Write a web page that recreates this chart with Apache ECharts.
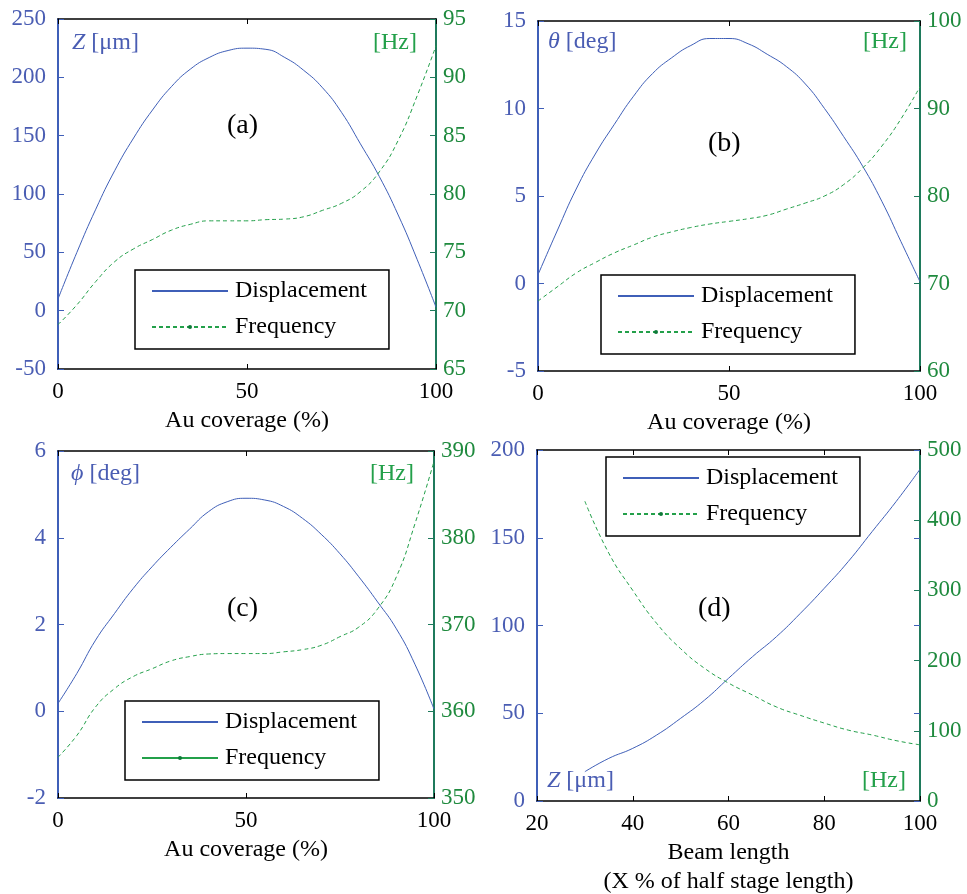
<!DOCTYPE html>
<html>
<head>
<meta charset="utf-8">
<script src="https://cdn.jsdelivr.net/npm/echarts@6/dist/echarts.min.js"></script>
<style>
  html, body { margin: 0; background: #fff; }
  #chart { width: 967px; height: 894px; }
</style>
</head>
<body>
<div id="chart"></div>
<script>
// data
const coverage = [0, 5, 10, 15, 20, 25, 30, 35, 40, 45, 50, 55, 60, 65, 70, 75, 80, 85, 90, 95, 100];
const dispA = [10, 50, 87, 120, 148, 172, 192, 207, 217, 223, 225, 224, 217, 206, 191, 170, 143, 115, 82, 44, 3];
const freqA = [68.8, 70.5, 72.5, 74.2, 75.3, 76.1, 76.9, 77.4, 77.7, 77.7, 77.7, 77.8, 77.85, 78.05, 78.6, 79.2, 80.2, 81.9, 84.6, 88.4, 92.7];
const dispB = [0.5, 3.0, 5.4, 7.4, 9.1, 10.7, 12.0, 12.9, 13.6, 14.0, 14.0, 13.7, 13.1, 12.4, 11.4, 10.0, 8.4, 6.7, 4.7, 2.4, 0.1];
const freqB = [68.0, 69.6, 71.2, 72.4, 73.5, 74.4, 75.3, 75.9, 76.4, 76.8, 77.1, 77.4, 77.8, 78.5, 79.2, 80.0, 81.3, 83.2, 85.7, 88.8, 92.5];
const dispC = [0.18, 0.87, 1.64, 2.25, 2.83, 3.33, 3.78, 4.2, 4.6, 4.83, 4.91, 4.87, 4.72, 4.45, 4.08, 3.63, 3.1, 2.52, 1.9, 1.07, 0.05];
const freqC = [354.7, 357.2, 360.5, 362.6, 364.0, 364.9, 365.8, 366.3, 366.6, 366.65, 366.65, 366.65, 366.85, 367.1, 367.6, 368.6, 369.7, 371.8, 375.5, 381.7, 388.8];
const beamLength = [30, 35, 40, 45, 50, 55, 60, 65, 70, 75, 80, 85, 90, 95, 100];
const dispD = [16.7, 24.3, 30, 37.6, 47.1, 57.5, 69.9, 82.2, 93.6, 106.9, 121.2, 136.4, 153.5, 170.6, 189];
const freqD = [427, 353, 300, 253, 217, 189, 168, 151, 134, 122, 111, 101, 94, 86, 80];

const FONT = '"Liberation Serif", "Times New Roman", serif';
const BLUE = '#3f5fb8';
const BLUE_TXT = '#4a5db3';
const GREEN = '#23a04a';
const GREEN_TXT = '#1f8a3e';
const GREEN_AXIS = '#1f7a5c';

const pairs = (xs, ys) => xs.map((x, i) => [x, ys[i]]);

// one entry per panel
const panels = [
  { rect: [58, 19, 378, 350], x: [0, 100, 50], yl: [-50, 250, 50], yr: [65, 95, 5],
    xs: coverage, disp: dispA, freq: freqA, xname: 'Au coverage (%)',
    legend: [135, 270], solidLegend: false },
  { rect: [538, 21, 382, 350], x: [0, 100, 50], yl: [-5, 15, 5], yr: [60, 100, 10],
    xs: coverage, disp: dispB, freq: freqB, xname: 'Au coverage (%)',
    legend: [601, 275], solidLegend: false },
  { rect: [58, 451, 376, 347], x: [0, 100, 50], yl: [-2, 6, 2], yr: [350, 390, 10],
    xs: coverage, disp: dispC, freq: freqC, xname: 'Au coverage (%)',
    legend: [125, 701], solidLegend: true },
  { rect: [537, 450, 383, 351], x: [20, 100, 20], yl: [0, 200, 50], yr: [0, 500, 100],
    xs: beamLength, disp: dispD, freq: freqD, xname: 'Beam length\n(X % of half stage length)',
    legend: [606, 457], solidLegend: false }
];

const grid = [], xAxis = [], yAxis = [], series = [], legend = [];

panels.forEach((p, i) => {
  grid.push({ left: p.rect[0], top: p.rect[1], width: p.rect[2], height: p.rect[3],
    outerBoundsMode: 'none', containLabel: false });

  xAxis.push({
    type: 'value', gridIndex: i, position: 'bottom',
    min: p.x[0], max: p.x[1], interval: p.x[2],
    axisLine: { show: true, onZero: false, lineStyle: { color: '#000', width: 1.5 } },
    axisTick: { show: true, inside: true, length: 5, lineStyle: { color: '#000' } },
    axisLabel: { color: '#000', fontSize: 23, fontFamily: FONT, margin: 11 },
    splitLine: { show: false },
    name: p.xname, nameLocation: 'middle', nameGap: 37,
    nameTextStyle: { color: '#000', fontSize: 24, fontFamily: FONT, lineHeight: 29, verticalAlign: 'top' }
  });
  xAxis.push({
    type: 'value', gridIndex: i, position: 'top',
    min: p.x[0], max: p.x[1], interval: p.x[2],
    axisLine: { show: true, onZero: false, lineStyle: { color: '#000', width: 1.5 } },
    axisTick: { show: true, inside: true, length: 5, lineStyle: { color: '#000' } },
    axisLabel: { show: false }, splitLine: { show: false }
  });

  const left = yAxis.length;
  yAxis.push({
    type: 'value', gridIndex: i, position: 'left',
    min: p.yl[0], max: p.yl[1], interval: p.yl[2],
    axisLine: { show: true, onZero: false, lineStyle: { color: BLUE, width: 2 } },
    axisTick: { show: true, inside: true, length: 6, lineStyle: { color: BLUE } },
    axisLabel: { color: BLUE_TXT, fontSize: 23, fontFamily: FONT, margin: 12 },
    splitLine: { show: false }
  });
  yAxis.push({
    type: 'value', gridIndex: i, position: 'right',
    min: p.yr[0], max: p.yr[1], interval: p.yr[2],
    axisLine: { show: true, onZero: false, lineStyle: { color: GREEN_AXIS, width: 2 } },
    axisTick: { show: true, inside: true, length: 6, lineStyle: { color: GREEN_AXIS } },
    axisLabel: { color: GREEN_TXT, fontSize: 23, fontFamily: FONT, margin: 7 },
    splitLine: { show: false }
  });
  if (i === 3) {
    // plotyy leaves the left-scale ticks on the right edge too
    yAxis.push({
      type: 'value', gridIndex: i, position: 'right',
      min: p.yl[0], max: p.yl[1], interval: p.yl[2],
      axisLine: { show: false },
      axisTick: { show: true, inside: true, length: 6, lineStyle: { color: BLUE } },
      axisLabel: { show: false }, splitLine: { show: false }
    });
  }

  series.push({
    name: 'Displacement', type: 'line', xAxisIndex: i * 2, yAxisIndex: left,
    data: pairs(p.xs, p.disp), symbol: 'none', smooth: true, silent: true,
    lineStyle: { color: BLUE, width: 1 }, itemStyle: { color: BLUE }
  });
  series.push({
    name: 'Frequency', type: 'line', xAxisIndex: i * 2, yAxisIndex: left + 1,
    data: pairs(p.xs, p.freq), symbol: 'circle', showSymbol: false, smooth: true, silent: true,
    lineStyle: { color: GREEN, width: 1, type: [4, 3] }, itemStyle: { color: '#0e7a38' }
  });

  legend.push({
    orient: 'vertical', left: p.legend[0], top: p.legend[1],
    itemWidth: 76, itemHeight: 5, itemGap: 12,
    padding: [9, 22, 10, 16],
    borderColor: '#000', borderWidth: 1.5, backgroundColor: '#fff',
    selectedMode: false,
    textStyle: { color: '#000', fontSize: 24, fontFamily: FONT, padding: [0, 0, 0, 2] },
    data: [
      { name: 'Displacement', itemStyle: { opacity: 0 } },
      p.solidLegend ? { name: 'Frequency', lineStyle: { type: 'solid' } } : 'Frequency'
    ]
  });
});

// in-plot annotations
const ann = (left, top, text, fill, size) => ({
  type: 'text', left, top, z: 100,
  style: { text, fill, font: size + 'px ' + FONT,
    rich: { i: { fontStyle: 'italic', fontSize: size, fontFamily: FONT, fill } } }
});
const graphic = [
  ann(72, 31, '{i|Z} [μm]', BLUE_TXT, 24), ann(373, 31, '[Hz]', GREEN, 24), ann(227, 112, '(a)', '#000', 28),
  ann(548, 30, '{i|θ} [deg]', BLUE_TXT, 24), ann(863, 30, '[Hz]', GREEN, 24), ann(708, 130, '(b)', '#000', 28),
  ann(71, 462, '{i|ϕ} [deg]', BLUE_TXT, 24), ann(370, 462, '[Hz]', GREEN, 24), ann(227, 595, '(c)', '#000', 28),
  ann(547, 769, '{i|Z} [μm]', BLUE_TXT, 24), ann(862, 769, '[Hz]', GREEN, 24), ann(698, 595, '(d)', '#000', 28)
];

const chart = echarts.init(document.getElementById('chart'), null, { renderer: 'canvas' });
chart.setOption({
  backgroundColor: '#fff',
  animation: false,
  textStyle: { fontFamily: FONT },
  grid, xAxis, yAxis, series, legend, graphic
});
</script>
</body>
</html>
